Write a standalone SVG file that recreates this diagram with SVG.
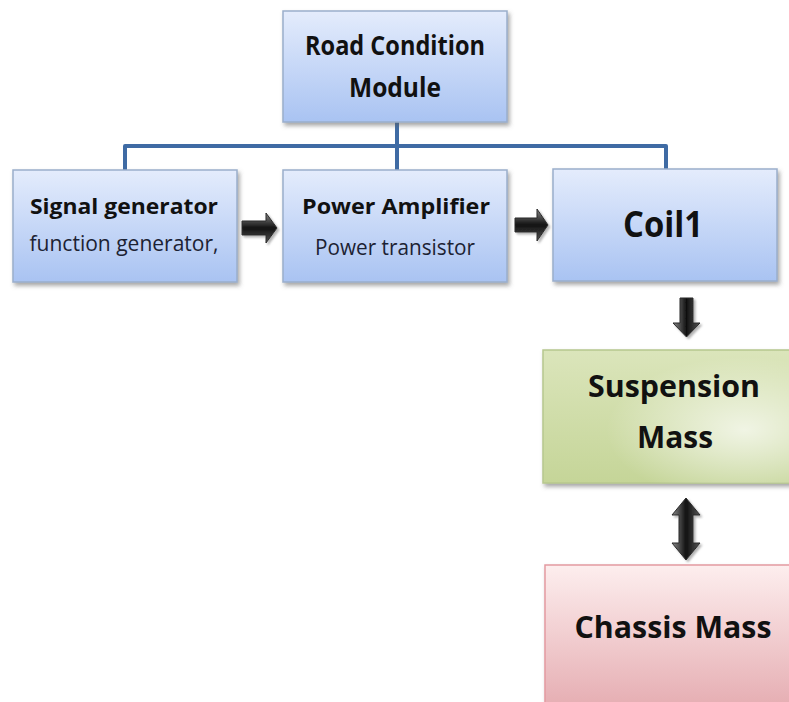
<svg xmlns="http://www.w3.org/2000/svg" width="789" height="702" viewBox="0 0 789 702">
  <defs>
    <linearGradient id="gBlue" x1="0" y1="0" x2="0" y2="1">
      <stop offset="0" stop-color="#e4ecfc"/>
      <stop offset="1" stop-color="#a9c3f2"/>
    </linearGradient>
    <linearGradient id="gGreen" x1="0" y1="0" x2="0" y2="1">
      <stop offset="0" stop-color="#dbe5bb"/>
      <stop offset="1" stop-color="#c5d598"/>
    </linearGradient>
    <radialGradient id="gGreenHi" cx="0.8" cy="0.6" r="0.55">
      <stop offset="0" stop-color="#ffffff" stop-opacity="0.7"/>
      <stop offset="1" stop-color="#ffffff" stop-opacity="0"/>
    </radialGradient>
    <linearGradient id="gPink" x1="0" y1="0" x2="0" y2="1">
      <stop offset="0" stop-color="#fdeeee"/>
      <stop offset="1" stop-color="#e5acb1"/>
    </linearGradient>
    <linearGradient id="gArrH" x1="0" y1="0" x2="0" y2="1">
      <stop offset="0" stop-color="#8a8a8a"/>
      <stop offset="0.5" stop-color="#111111"/>
      <stop offset="1" stop-color="#555555"/>
    </linearGradient>
    <linearGradient id="gArrV" x1="0" y1="0" x2="1" y2="0">
      <stop offset="0" stop-color="#8a8a8a"/>
      <stop offset="0.5" stop-color="#111111"/>
      <stop offset="1" stop-color="#555555"/>
    </linearGradient>
    <filter id="shadow" x="-10%" y="-10%" width="125%" height="130%">
      <feDropShadow dx="2" dy="3" stdDeviation="2" flood-color="#606060" flood-opacity="0.55"/>
    </filter>
    <filter id="ashadow" x="-30%" y="-30%" width="170%" height="170%">
      <feDropShadow dx="2" dy="2" stdDeviation="1" flood-color="#808080" flood-opacity="0.6"/>
    </filter>
  </defs>
  <style>
    .blue { fill: url(#gBlue); stroke: #9aaecb; stroke-width: 1.5; filter: url(#shadow); }
    .green { fill: url(#gGreen); stroke: #b7c78e; stroke-width: 1.5; filter: url(#shadow); }
    .pink { fill: url(#gPink); stroke: #e39aa1; stroke-width: 1.5; filter: url(#shadow); }
    .title { font-family: "Open Sans", "Noto Sans", sans-serif; font-weight: bold; fill: #111111; text-anchor: middle; }
    .sub { font-family: "Open Sans", "Noto Sans", sans-serif; fill: #1c2233; text-anchor: middle; }
    .conn { fill: none; stroke: #3f6ba4; stroke-width: 4; stroke-linejoin: round; }
    .arrH { fill: url(#gArrH); stroke: #2a2a2a; stroke-width: 1; filter: url(#ashadow); }
    .arrV { fill: url(#gArrV); stroke: #2a2a2a; stroke-width: 1; filter: url(#ashadow); }
  </style>

  <g id="connectors">
    <path class="conn" d="M397,122 V170"/>
    <path class="conn" d="M125,170 V146 H666 V170"/>
    <path class="arrH" d="M242,221 H266 V213 L277,228 L266,243 V235 H242 Z"/>
    <path class="arrH" d="M515,218 H537 V209 L548,225 L537,241 V232 H515 Z"/>
    <path class="arrV" d="M680,298 H693 V323 H700 L686.5,337 L673,323 H680 Z"/>
    <path class="arrV" d="M686,498 L700,515 H693 V543 H700 L686,560 L672,543 H679 V515 H672 Z"/>
  </g>

  <g id="road-condition-module">
    <rect class="blue" x="283" y="11" width="224" height="111"/>
    <text class="title" x="395" y="55" font-size="26" textLength="180" lengthAdjust="spacingAndGlyphs">Road Condition</text>
    <text class="title" x="395" y="97" font-size="26" textLength="92" lengthAdjust="spacingAndGlyphs">Module</text>
  </g>

  <g id="signal-generator">
    <rect class="blue" x="13" y="170" width="224" height="112"/>
    <text class="title" x="124" y="214" font-size="22" textLength="188" lengthAdjust="spacingAndGlyphs">Signal generator</text>
    <text class="sub" x="124" y="251" font-size="21" textLength="189" lengthAdjust="spacingAndGlyphs">function generator,</text>
  </g>

  <g id="power-amplifier">
    <rect class="blue" x="283" y="170" width="224" height="112"/>
    <text class="title" x="396" y="214" font-size="22" textLength="188" lengthAdjust="spacingAndGlyphs">Power Amplifier</text>
    <text class="sub" x="395" y="255" font-size="21" textLength="160" lengthAdjust="spacingAndGlyphs">Power transistor</text>
  </g>

  <g id="coil1">
    <rect class="blue" x="553" y="169" width="224" height="112"/>
    <text class="title" x="663" y="237" font-size="36" textLength="80" lengthAdjust="spacingAndGlyphs">Coil1</text>
  </g>

  <g id="suspension-mass">
    <rect class="green" x="543" y="350" width="252" height="133"/>
    <rect x="543" y="350" width="252" height="133" fill="url(#gGreenHi)"/>
    <text class="title" x="674" y="397" font-size="30" textLength="172" lengthAdjust="spacingAndGlyphs">Suspension</text>
    <text class="title" x="675" y="448" font-size="30" textLength="76" lengthAdjust="spacingAndGlyphs">Mass</text>
  </g>

  <g id="chassis-mass">
    <rect class="pink" x="545" y="565" width="250" height="145"/>
    <text class="title" x="673" y="638" font-size="30" textLength="197" lengthAdjust="spacingAndGlyphs">Chassis Mass</text>
  </g>
</svg>
